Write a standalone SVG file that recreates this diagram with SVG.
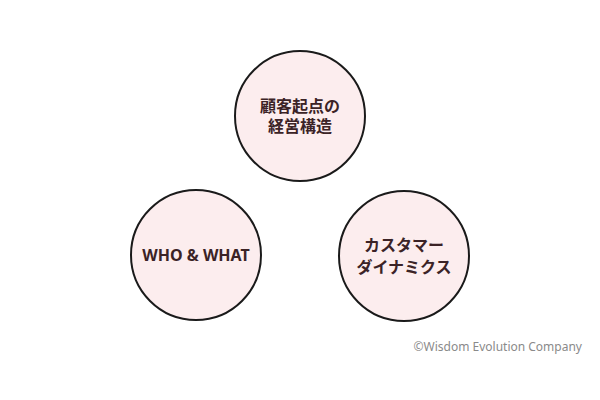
<svg xmlns="http://www.w3.org/2000/svg" width="600" height="400" viewBox="0 0 600 400">
<style>
.node circle{fill:#fcedee;stroke:#1a1a1a;stroke-width:2}
.lbl{font-family:"Noto Sans","Noto Sans CJK JP",sans-serif;font-weight:700;font-size:16px;fill:#3b2326;text-anchor:middle}
.copy{font-family:"Noto Sans","Noto Sans CJK JP",sans-serif;font-size:12px;fill:#8a8a8a;text-anchor:end}
</style>
<rect width="600" height="400" fill="#ffffff"/>
<g id="connectors"></g>
<g id="node-top" class="node">
<circle cx="300" cy="116" r="65"/>
<text class="lbl" x="300" y="112">顧客起点の</text>
<text class="lbl" x="300" y="132">経営構造</text>
</g>
<g id="node-left" class="node">
<circle cx="196" cy="255" r="65"/>
<text class="lbl" x="196" y="261">WHO &amp; WHAT</text>
</g>
<g id="node-right" class="node">
<circle cx="404" cy="256" r="65"/>
<text class="lbl" x="404" y="251">カスタマー</text>
<text class="lbl" x="404" y="273">ダイナミクス</text>
</g>
<text class="copy" x="582" y="351">©Wisdom Evolution Company</text>
</svg>
